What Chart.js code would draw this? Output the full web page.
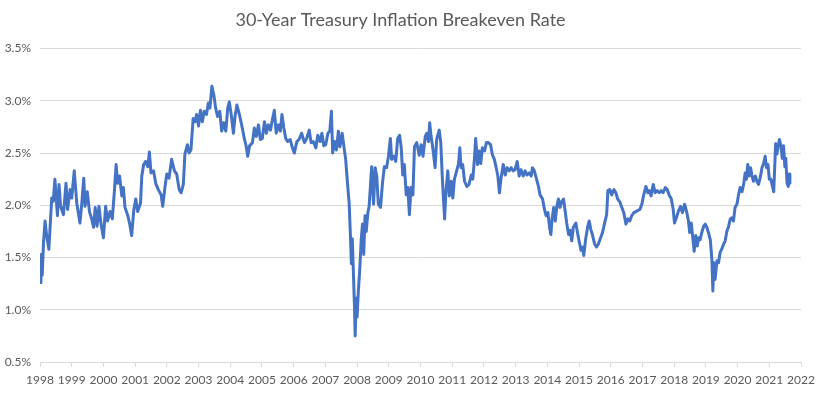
<!DOCTYPE html>
<html>
<head>
<meta charset="utf-8">
<script src="https://cdn.jsdelivr.net/npm/chart.js@4.4.1/dist/chart.umd.min.js"></script>
<style>
  html, body { margin: 0; padding: 0; background: #fff; }
</style>
</head>
<body>
<canvas id="chart" width="822" height="394"></canvas>
<script>
// decimal year of each observation
const years = [
  1998.00, 1998.03, 1998.07, 1998.11, 1998.16, 1998.21, 1998.28, 1998.37, 1998.42, 1998.47,
  1998.55, 1998.60, 1998.65, 1998.74, 1998.82, 1998.87, 1998.95, 1999.00, 1999.08, 1999.16,
  1999.26, 1999.31, 1999.38, 1999.42, 1999.49, 1999.56, 1999.63, 1999.69, 1999.74, 1999.80,
  1999.86, 1999.92, 2000.00, 2000.07, 2000.13, 2000.21, 2000.28, 2000.35, 2000.40, 2000.45,
  2000.51, 2000.58, 2000.63, 2000.68, 2000.77, 2000.83, 2000.89, 2000.96, 2001.02, 2001.08,
  2001.17, 2001.21, 2001.27, 2001.33, 2001.40, 2001.45, 2001.50, 2001.58, 2001.65, 2001.73,
  2001.82, 2001.87, 2001.94,
  2002.00, 2002.07, 2002.15, 2002.24, 2002.31, 2002.39, 2002.45, 2002.52, 2002.57, 2002.65,
  2002.70, 2002.76, 2002.83, 2002.89, 2002.94, 2003.00, 2003.06, 2003.12, 2003.18, 2003.25,
  2003.31, 2003.36, 2003.42, 2003.48, 2003.54, 2003.60, 2003.67, 2003.73, 2003.79, 2003.86,
  2003.92, 2003.97, 2004.03, 2004.10, 2004.15, 2004.21, 2004.28, 2004.36, 2004.45, 2004.50,
  2004.55, 2004.61, 2004.70, 2004.76, 2004.82, 2004.89, 2004.95, 2005.01, 2005.08, 2005.14,
  2005.20, 2005.27, 2005.33, 2005.39, 2005.45, 2005.52, 2005.58, 2005.63, 2005.69, 2005.75,
  2005.81, 2005.89, 2005.96, 2006.02,
  2006.10, 2006.17, 2006.25, 2006.34, 2006.41, 2006.49, 2006.55, 2006.62, 2006.70, 2006.76,
  2006.83, 2006.89, 2006.95, 2007.01, 2007.08, 2007.14, 2007.19, 2007.23, 2007.29, 2007.35,
  2007.41, 2007.46, 2007.53, 2007.59, 2007.64, 2007.70, 2007.75, 2007.79, 2007.82, 2007.85,
  2007.88, 2007.92, 2007.94, 2007.97, 2008.00, 2008.04, 2008.08, 2008.13, 2008.17, 2008.21,
  2008.25, 2008.29, 2008.34, 2008.38, 2008.42, 2008.46, 2008.52, 2008.57, 2008.62, 2008.67,
  2008.74, 2008.80, 2008.86, 2008.93, 2008.99, 2009.05, 2009.09, 2009.16, 2009.22, 2009.28,
  2009.34, 2009.39, 2009.44, 2009.49, 2009.55, 2009.60, 2009.65, 2009.70, 2009.76, 2009.81,
  2009.88, 2009.96, 2010.02, 2010.08,
  2010.15, 2010.20, 2010.25, 2010.29, 2010.33, 2010.40, 2010.46, 2010.51, 2010.59, 2010.64,
  2010.69, 2010.76, 2010.80, 2010.86, 2010.91, 2010.97, 2011.02, 2011.07, 2011.14, 2011.20,
  2011.24, 2011.28, 2011.33, 2011.39, 2011.46, 2011.53, 2011.60, 2011.65, 2011.70, 2011.74,
  2011.80, 2011.85, 2011.90, 2011.95, 2012.02, 2012.08, 2012.14, 2012.21, 2012.27, 2012.33,
  2012.40, 2012.44, 2012.49, 2012.54, 2012.61, 2012.67, 2012.73, 2012.80, 2012.86, 2012.92,
  2012.98, 2013.05, 2013.11, 2013.17, 2013.24, 2013.30, 2013.36, 2013.43, 2013.49, 2013.53,
  2013.59, 2013.66, 2013.72, 2013.77, 2013.85, 2013.91, 2013.96, 2014.02, 2014.07, 2014.11,
  2014.15, 2014.20,
  2014.25, 2014.30, 2014.35, 2014.40, 2014.46, 2014.51, 2014.56, 2014.61, 2014.67, 2014.72,
  2014.77, 2014.82, 2014.90, 2014.95, 2015.00, 2015.06, 2015.11, 2015.15, 2015.21, 2015.27,
  2015.32, 2015.37, 2015.42, 2015.49, 2015.55, 2015.61, 2015.68, 2015.74, 2015.80, 2015.87,
  2015.91, 2015.97, 2016.03, 2016.10, 2016.16, 2016.22, 2016.29, 2016.35, 2016.41, 2016.48,
  2016.54, 2016.60, 2016.66, 2016.73, 2016.79, 2016.85, 2016.92, 2016.98, 2017.04, 2017.11,
  2017.17, 2017.22, 2017.27, 2017.34, 2017.40, 2017.46, 2017.53, 2017.59, 2017.65, 2017.72,
  2017.78, 2017.84, 2017.91, 2017.97, 2018.01, 2018.07, 2018.14, 2018.20, 2018.26, 2018.33,
  2018.40, 2018.45, 2018.49, 2018.54, 2018.58, 2018.63, 2018.68, 2018.73, 2018.77, 2018.82,
  2018.87, 2018.93, 2018.98, 2019.03, 2019.08, 2019.14, 2019.19, 2019.22, 2019.25, 2019.29,
  2019.35, 2019.40, 2019.45, 2019.50, 2019.56, 2019.61, 2019.66, 2019.71, 2019.77, 2019.82,
  2019.87, 2019.92, 2019.98, 2020.03, 2020.08, 2020.14, 2020.19, 2020.24, 2020.28, 2020.32,
  2020.37, 2020.41, 2020.45, 2020.50, 2020.56, 2020.61, 2020.66, 2020.71, 2020.77, 2020.82,
  2020.87, 2020.91, 2020.96, 2021.00, 2021.05, 2021.10, 2021.14,
  2021.20, 2021.24, 2021.28, 2021.32, 2021.37, 2021.41, 2021.45, 2021.49, 2021.52, 2021.56,
  2021.60, 2021.63, 2021.65
];

// 30-year breakeven rate, percent
const rates = [
  1.26, 1.53, 1.33, 1.64, 1.85, 1.71, 1.58, 2.07, 2.04, 2.25,
  1.90, 2.20, 1.99, 1.91, 2.21, 1.96, 2.15, 2.07, 2.33, 2.02,
  1.83, 1.99, 2.26, 1.99, 2.13, 1.94, 1.87, 1.79, 1.98, 1.80,
  1.99, 1.83, 1.69, 1.99, 1.85, 1.94, 1.87, 2.15, 2.39, 2.21,
  2.28, 2.09, 2.17, 1.98, 1.90, 1.82, 1.71, 1.96, 2.06, 1.94,
  2.02, 2.28, 2.39, 2.42, 2.37, 2.51, 2.31, 2.33, 2.21, 2.15,
  2.10, 1.99, 2.17,
  2.30, 2.26, 2.44, 2.33, 2.30, 2.15, 2.12, 2.20, 2.49, 2.58,
  2.50, 2.53, 2.83, 2.80, 2.87, 2.76, 2.91, 2.80, 2.90, 2.87,
  2.98, 2.93, 3.14, 3.06, 2.93, 2.85, 2.90, 2.71, 2.79, 2.71,
  2.93, 2.99, 2.87, 2.69, 2.85, 2.96, 2.88, 2.77, 2.63, 2.57,
  2.47, 2.57, 2.60, 2.74, 2.66, 2.77, 2.63, 2.64, 2.80, 2.69,
  2.77, 2.72, 2.82, 2.91, 2.69, 2.77, 2.71, 2.87, 2.74, 2.64,
  2.61, 2.63, 2.55, 2.50,
  2.61, 2.63, 2.69, 2.60, 2.64, 2.72, 2.60, 2.61, 2.55, 2.67,
  2.61, 2.69, 2.57, 2.58, 2.69, 2.71, 2.90, 2.50, 2.61, 2.53,
  2.71, 2.56, 2.69, 2.55, 2.44, 2.20, 2.02, 1.71, 1.44, 1.68,
  1.39, 1.01, 0.75, 1.11, 0.93, 1.18, 1.36, 1.67, 1.82, 1.53,
  1.90, 1.75, 1.93, 1.99, 2.18, 2.37, 2.01, 2.36, 2.28, 2.01,
  1.98, 2.21, 2.37, 2.36, 2.47, 2.64, 2.44, 2.47, 2.42, 2.64,
  2.67, 2.56, 2.29, 2.39, 2.10, 2.17, 1.91, 2.17, 2.10, 2.56,
  2.60, 2.48, 2.58, 2.47,
  2.66, 2.69, 2.61, 2.79, 2.67, 2.52, 2.36, 2.63, 2.72, 2.60,
  2.25, 1.87, 2.12, 2.33, 2.09, 2.23, 2.07, 2.25, 2.33, 2.40,
  2.55, 2.36, 2.39, 2.23, 2.18, 2.20, 2.29, 2.25, 2.44, 2.64,
  2.39, 2.52, 2.40, 2.55, 2.52, 2.60, 2.60, 2.58, 2.48, 2.44,
  2.34, 2.28, 2.12, 2.26, 2.39, 2.29, 2.36, 2.33, 2.36, 2.33,
  2.34, 2.42, 2.28, 2.34, 2.28, 2.33, 2.29, 2.31, 2.28, 2.36,
  2.33, 2.25, 2.18, 2.10, 2.06, 1.96, 1.90, 1.93, 1.79, 1.72,
  1.87, 1.98,
  1.85, 1.99, 2.06, 1.98, 2.04, 2.06, 1.95, 1.83, 1.72, 1.76,
  1.66, 1.79, 1.83, 1.74, 1.66, 1.57, 1.60, 1.52, 1.68, 1.79,
  1.85, 1.77, 1.72, 1.63, 1.60, 1.63, 1.69, 1.74, 1.82, 1.91,
  2.14, 2.15, 2.10, 2.15, 2.12, 2.06, 2.03, 1.98, 1.93, 1.82,
  1.87, 1.85, 1.90, 1.93, 1.94, 1.95, 1.96, 2.01, 2.10, 2.18,
  2.12, 2.14, 2.09, 2.20, 2.12, 2.14, 2.12, 2.14, 2.12, 2.17,
  2.15, 2.10, 2.06, 1.96, 1.83, 1.88, 1.95, 1.99, 1.93, 2.01,
  1.93, 1.85, 1.74, 1.83, 1.71, 1.56, 1.71, 1.61, 1.69, 1.67,
  1.74, 1.80, 1.82, 1.79, 1.74, 1.67, 1.48, 1.18, 1.45, 1.29,
  1.47, 1.45, 1.55, 1.58, 1.63, 1.66, 1.75, 1.79, 1.87, 1.88,
  1.85, 1.98, 2.01, 2.10, 2.17, 2.13, 2.20, 2.31, 2.25, 2.39,
  2.28, 2.36, 2.29, 2.23, 2.28, 2.23, 2.20, 2.26, 2.36, 2.40,
  2.47, 2.36, 2.39, 2.25, 2.25, 2.18, 2.13,
  2.59, 2.49, 2.57, 2.63, 2.56, 2.45, 2.57, 2.37, 2.45, 2.21,
  2.18, 2.30, 2.21
];

const chartTitle = "30-Year Treasury Inflation Breakeven Rate";
const xMin = 1998, xMax = 2022;
const yMin = 0.5, yMax = 3.5, yStep = 0.5;

const points = years.map((y, i) => ({ x: y, y: rates[i] }));
const textColor = "#595959";
const gridColor = "#d9d9d9";

new Chart(document.getElementById("chart"), {
    type: "line",
    data: {
        datasets: [{
            data: points,
            borderColor: "#4472C4",
            borderWidth: 3,
            pointRadius: 0,
            tension: 0,
            borderJoinStyle: "round"
        }]
    },
    options: {
        responsive: false,
        animation: false,
        layout: { padding: { left: 0, right: 21, top: 0, bottom: 0 } },
        plugins: {
            legend: { display: false },
            tooltip: { enabled: false },
            title: {
                display: true,
                text: chartTitle,
                color: textColor,
                font: { family: "Lato", size: 18, weight: "normal" },
                padding: { top: 9, bottom: 18 }
            }
        },
        scales: {
            x: {
                type: "linear",
                min: xMin,
                max: xMax,
                ticks: {
                    stepSize: 1,
                    color: textColor,
                    font: { family: "Lato", size: 12 },
                    padding: 6,
                    maxRotation: 0,
                    autoSkip: false,
                    callback: v => String(v)
                },
                grid: { drawOnChartArea: false, drawTicks: true, tickLength: 5, color: gridColor },
                border: { display: true, color: gridColor },
                afterFit: s => { s.height = 32; }
            },
            y: {
                min: yMin,
                max: yMax,
                ticks: {
                    stepSize: yStep,
                    color: textColor,
                    font: { family: "Lato", size: 12 },
                    padding: 9,
                    callback: v => v.toFixed(1) + "%"
                },
                grid: { color: gridColor, drawTicks: false },
                border: { display: false },
                afterFit: s => { s.width = 40; }
            }
        }
    }
});
</script>
</body>
</html>
